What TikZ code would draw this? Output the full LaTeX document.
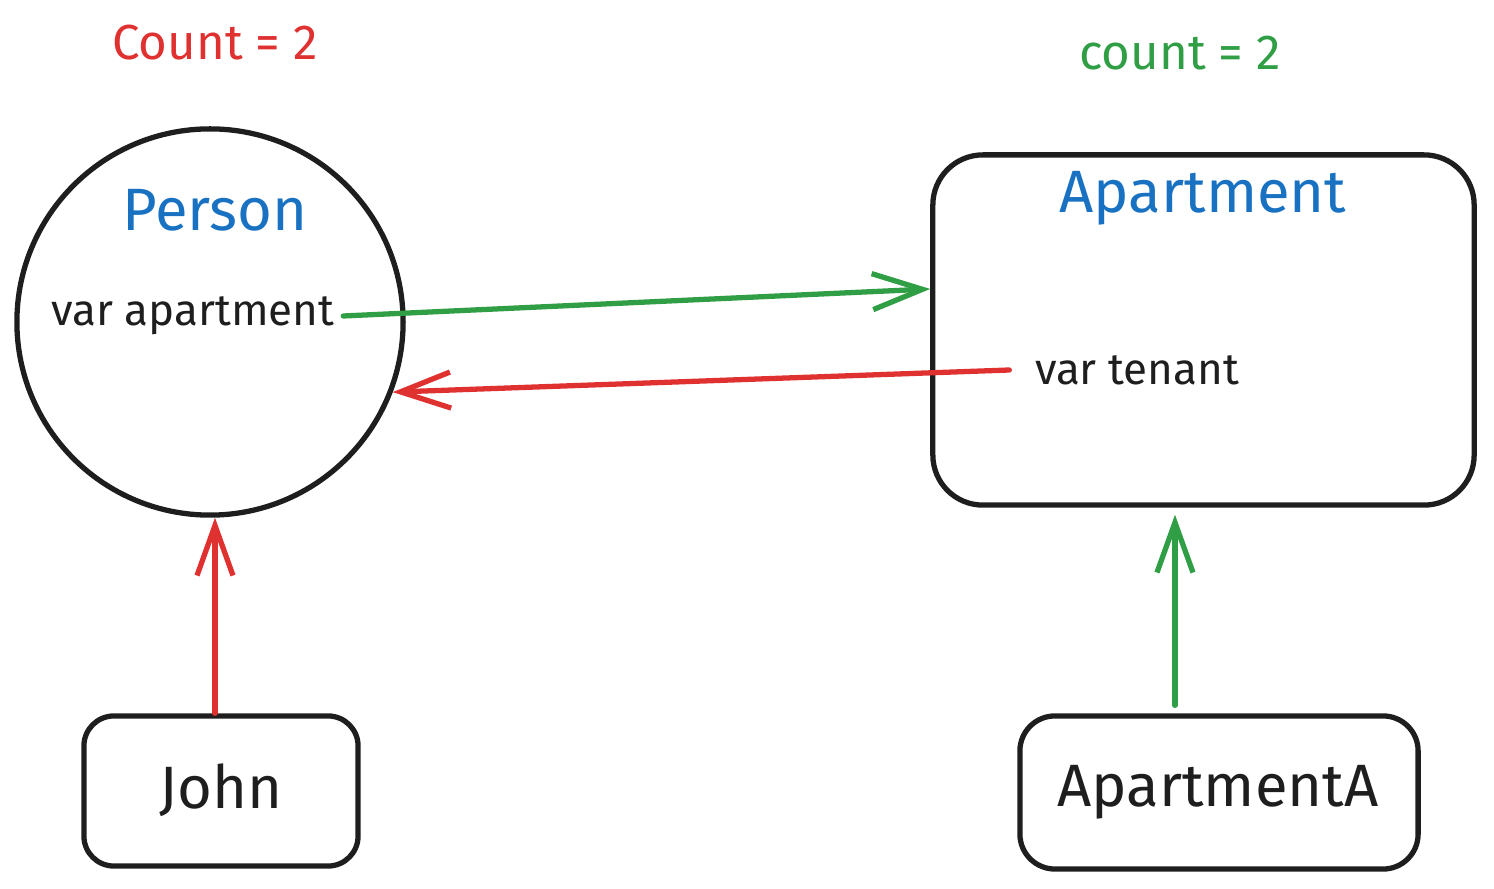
\documentclass[tikz,border=0pt]{standalone}
\usepackage{fontspec}
\setmainfont{Fira Sans}
\usetikzlibrary{arrows.meta}
\definecolor{exred}{HTML}{E03131}
\definecolor{exgreen}{HTML}{2F9E44}
\definecolor{exblue}{HTML}{1971C2}
\definecolor{exblack}{HTML}{1E1E1E}
\tikzset{
  shapeline/.style={draw=exblack, line width=1.5pt},
  boxnode/.style={shapeline, rectangle, inner sep=0pt},
  txt/.style={inner sep=0pt, text=exblack},
  title/.style={inner sep=0pt, text=exblue, font=\fontsize{17pt}{20pt}\selectfont},
  small/.style={font=\fontsize{12.5pt}{15pt}\selectfont},
  big/.style={font=\fontsize{17pt}{20pt}\selectfont},
  cnt/.style={inner sep=0pt, font=\fontsize{14pt}{17pt}\selectfont},
  arr/.style={line width=1.5pt, line cap=round, -{Straight Barb[length=5mm,width=3.6mm,line width=1.5pt]}},
}
\begin{document}
\begin{tikzpicture}[x=0.01cm,y=-0.01cm]
\useasboundingbox (0,0) rectangle (1494,889);
% shapes
\node[shapeline, circle, minimum size=3.86cm, inner sep=0pt] (person) at (210,322) {};
\node[boxnode, rounded corners=0.5cm, minimum width=5.41cm, minimum height=3.5cm] (apt) at (1203.5,330) {};
\node[boxnode, rounded corners=0.3cm, minimum width=2.74cm, minimum height=1.5cm] (john) at (221,791) {};
\node[boxnode, rounded corners=0.35cm, minimum width=3.98cm, minimum height=1.53cm] (aptA) at (1219,792.5) {};
% texts
\node[title] (personlbl) at (215,210) {Person};
\node[title] (aptlbl) at (1203,198) {Apartment};
\node[txt, small] (varapt) at (193,316) {var apartment};
\node[txt, small] (vartenant) at (1137,370) {var tenant};
\node[txt, big] (johnlbl) at (221,790) {John};
\node[txt, big] (aptAlbl) at (1218,792) {ApartmentA};
\node[cnt, text=exred] (count1) at (215,43) {Count = 2};
\node[cnt, text=exgreen] (count2) at (1180,53) {count = 2};
% connectors
\coordinate (gstart) at ([xshift=0.08cm]varapt.east);
\coordinate (gend) at ([yshift=0.41cm]apt.west);
\draw[arr, exgreen] (gstart) -- (gend);
\coordinate (rstart) at ([xshift=-0.25cm]vartenant.west);
\draw[arr, exred] (rstart) -- (person.-21);
\coordinate (jtop) at ([xshift=-0.06cm]john.north);
\draw[arr, exred] (jtop) -- (jtop |- person.south);
\coordinate (atop) at ([xshift=-0.44cm,yshift=0.08cm]aptA.north);
\coordinate (abot) at ([yshift=-0.07cm]apt.south);
\draw[arr, exgreen] (atop) -- (atop |- abot);
\end{tikzpicture}
\end{document}
